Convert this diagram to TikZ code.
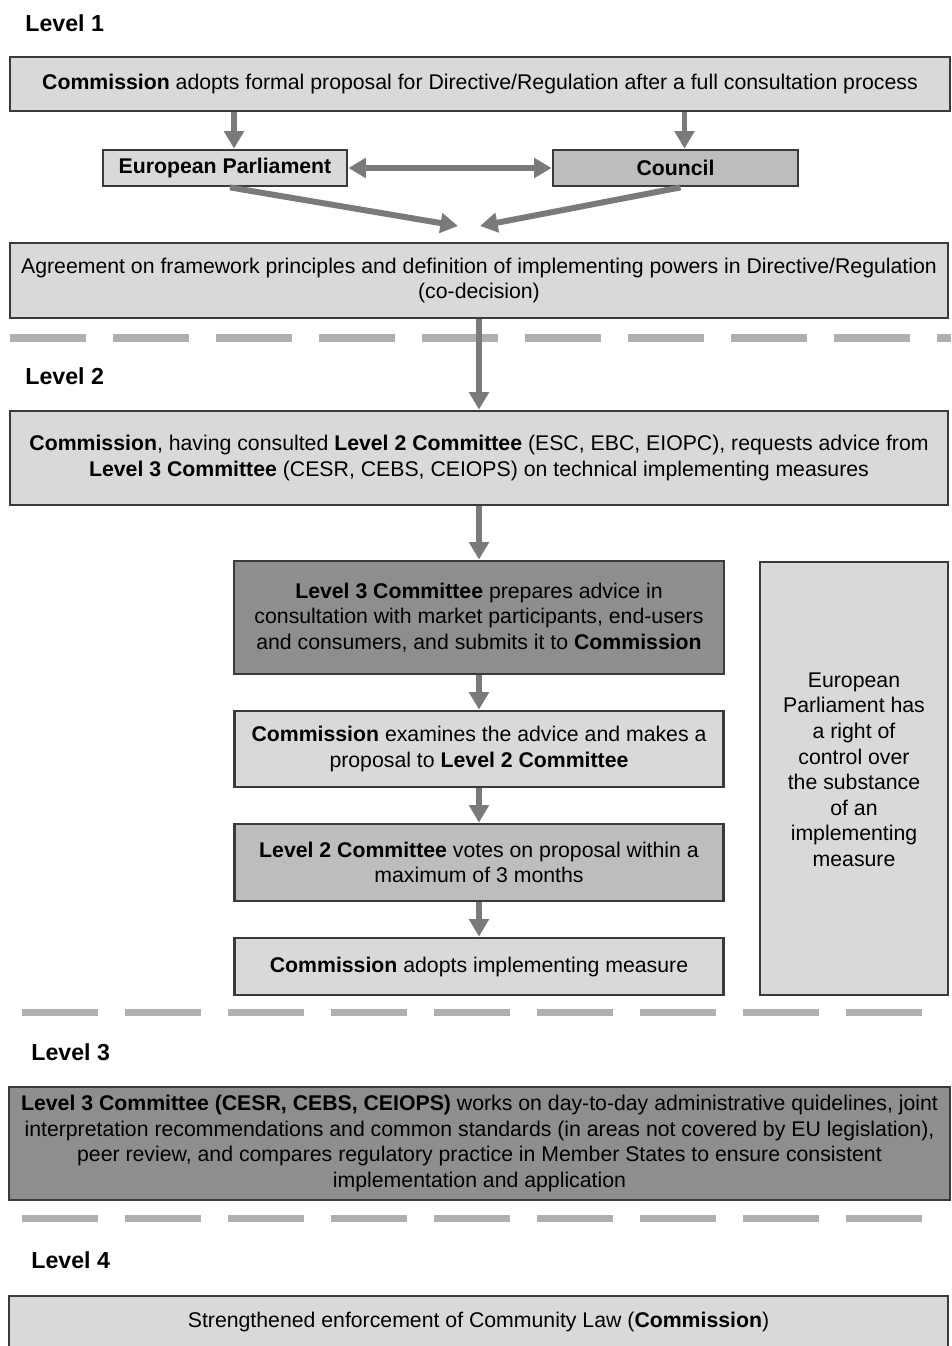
\documentclass[tikz,border=0pt]{standalone}
\usepackage{fontspec}
\setmainfont{Liberation Sans}
\usetikzlibrary{arrows.meta}

\definecolor{clair}{HTML}{D9D9D9}
\definecolor{moyen}{HTML}{BDBDBD}
\definecolor{fonce}{HTML}{8E8E8E}
\definecolor{bord}{HTML}{3A3A3A}
\definecolor{trait}{HTML}{7A7A7A}
\definecolor{tiret}{HTML}{B0B0B0}

\def\u{0.02cm}

\begin{document}
\begin{tikzpicture}[x=0.02cm,y=-0.02cm]
\tikzstyle{boite}=[draw=bord,line width=1.6pt,fill=clair,align=center,inner sep=0pt,font=\fontsize{12.1}{14.6}\selectfont]
\tikzstyle{niveau}=[anchor=west,inner sep=0pt,font=\fontsize{13.2}{15}\selectfont\bfseries]
\tikzstyle{fleche}=[-{Triangle[width=11pt,length=10pt]},trait,line width=3.4pt]
\tikzstyle{fleches}=[{Triangle[width=11pt,length=10pt]}-{Triangle[width=11pt,length=10pt]},trait,line width=3.4pt]
\tikzstyle{tirets}=[tiret,line width=4pt,dash pattern=on 1.52cm off 0.54cm]

\clip (0,0) rectangle (951,1346);

% Level 1
\node[niveau] (niv1) at (25,23) {Level 1};
\node[boite,minimum width=940*\u,minimum height=54*\u] (prop) at (480,84)
  {\textbf{Commission} adopts formal proposal for Directive/Regulation after a full consultation process};
\node[boite,minimum width=244*\u,minimum height=36*\u] (parl) at (225,168) {\textbf{European Parliament}};
\node[boite,fill=moyen,minimum width=245*\u,minimum height=36*\u] (cons) at (675.5,168) {\textbf{Council}};
\coordinate (jonctionG) at (458,226);
\coordinate (jonctionD) at (480,226);
\node[boite,minimum width=938*\u,minimum height=75*\u] (accord) at (479,280.5)
  {Agreement on framework principles and definition of implementing powers in Directive/Regulation\\(co-decision)};

\draw[fleche] ([xshift=9*\u]prop.south -| parl.north) -- ([xshift=9*\u]parl.north);
\draw[fleche] ([xshift=9*\u]prop.south -| cons.north) -- ([xshift=9*\u]cons.north);
\draw[fleches] (parl.east) -- (cons.west);
\draw[fleche] ([xshift=5*\u]parl.south) -- (jonctionG);
\draw[fleche] ([xshift=5*\u]cons.south) -- (jonctionD);

\draw[tirets] (10,338) -- (951,338);

% Level 2
\node[niveau] (niv2) at (25,376) {Level 2};
\node[boite,minimum width=938*\u,minimum height=94*\u] (consult) at (479,458)
  {\textbf{Commission}, having consulted \textbf{Level 2 Committee} (ESC, EBC, EIOPC), requests advice from\\
   \textbf{Level 3 Committee} (CESR, CEBS, CEIOPS) on technical implementing measures};
\node[boite,fill=fonce,minimum width=490*\u,minimum height=113*\u] (prep) at (479,617.5)
  {\textbf{Level 3 Committee} prepares advice in\\consultation with market participants, end-users\\and consumers, and submits it to \textbf{Commission}};
\node[boite,minimum width=489*\u,minimum height=76*\u] (exam) at (479,749)
  {\textbf{Commission} examines the advice and makes a\\proposal to \textbf{Level 2 Committee}};
\node[boite,fill=moyen,minimum width=489*\u,minimum height=77*\u] (vote) at (479,862.5)
  {\textbf{Level 2 Committee} votes on proposal within a\\maximum of 3 months};
\node[boite,minimum width=489*\u,minimum height=57*\u] (adopt) at (479,966.5)
  {\textbf{Commission} adopts implementing measure};
\node[boite,minimum width=188*\u,minimum height=433*\u] (controle) at (854,778.5)
  {European\\Parliament has\\a right of\\control over\\the substance\\of an\\implementing\\measure\\[-4.4pt]};

\draw[fleche] (accord) -- (consult);
\draw[fleche] (consult) -- (prep);
\draw[fleche] (prep) -- (exam);
\draw[fleche] (exam) -- (vote);
\draw[fleche] (vote) -- (adopt);

\draw[tirets] (22,1012) -- (930,1012);

% Level 3
\node[niveau] (niv3) at (31,1052) {Level 3};
\node[boite,fill=fonce,minimum width=941*\u,minimum height=113*\u] (comite) at (479.5,1143.5)
  {\textbf{Level 3 Committee (CESR, CEBS, CEIOPS)} works on day-to-day administrative quidelines, joint\\
   interpretation recommendations and common standards (in areas not covered by EU legislation),\\
   peer review, and compares regulatory practice in Member States to ensure consistent\\
   implementation and application};

\draw[tirets] (22,1218) -- (930,1218);

% Level 4
\node[niveau] (niv4) at (31,1260) {Level 4};
\node[boite,minimum width=939*\u,minimum height=51*\u] (enforce) at (478.5,1321.5)
  {Strengthened enforcement of Community Law (\textbf{Commission})};

\end{tikzpicture}
\end{document}
